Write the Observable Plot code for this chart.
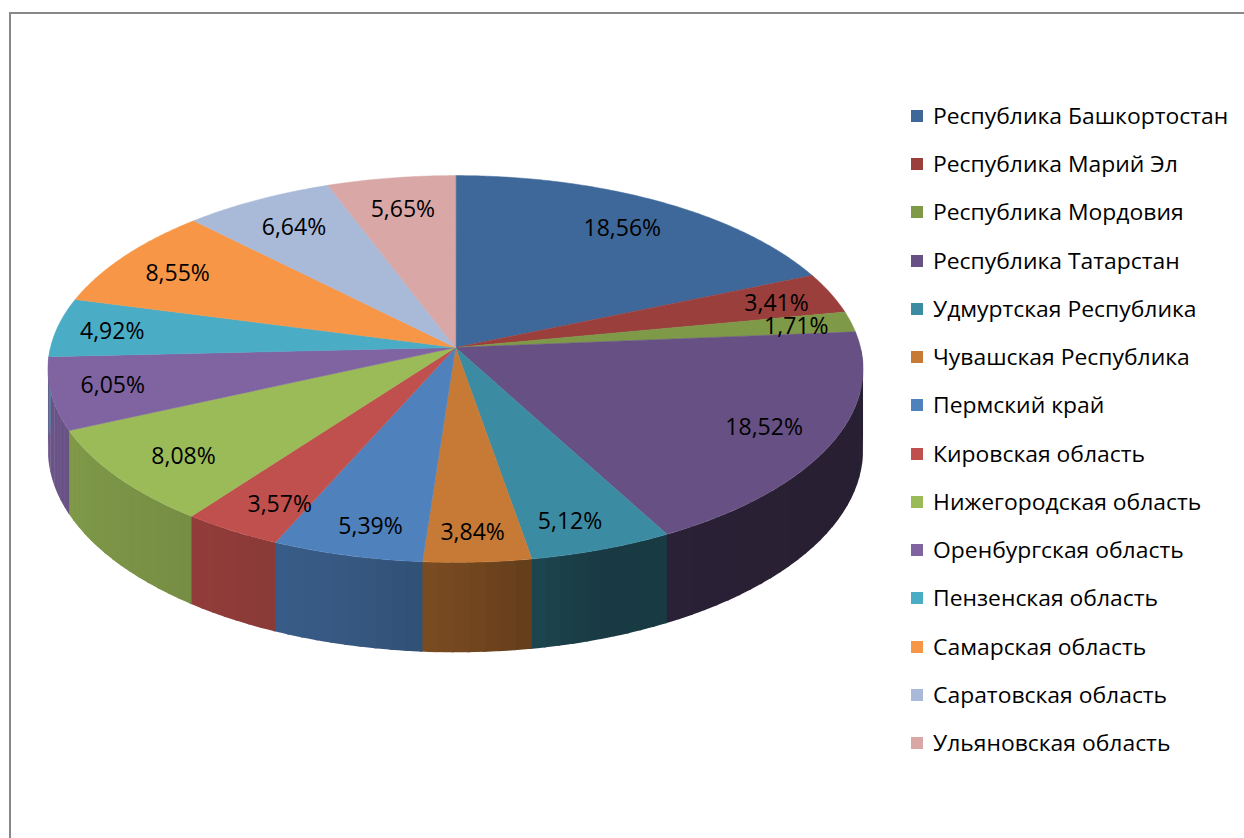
<!DOCTYPE html>
<html>
<head>
<meta charset="utf-8">
<script src="https://cdn.jsdelivr.net/npm/d3@7"></script>
<script src="https://cdn.jsdelivr.net/npm/@observablehq/plot@0.6"></script>
<style>
  html, body { margin: 0; padding: 0; background: #fff; }
  #wrap { position: relative; width: 1244px; height: 838px; overflow: hidden; }
  #frame { position: absolute; left: 9px; top: 12px; width: 1300px; height: 900px;
           border-left: 2px solid #888; border-top: 2px solid #888; }
  #chart { position: absolute; left: 0; top: 0; }
  #legend { position: absolute; left: 911px; top: 0; font-family: "Open Sans", sans-serif; font-size: 21px; color: #000; }
  .row { position: absolute; left: 0; white-space: nowrap; display: flex; align-items: center; height: 26px; }
  .sw { width: 12px; height: 12px; margin-right: 10px; flex: none; }
  .tx { display: inline-block; transform: scaleX(1.09); transform-origin: left center; }
</style>
</head>
<body>
<div id="wrap">
  <div id="frame"></div>
  <div id="chart"></div>
  <div id="legend"></div>
</div>
<script>
// ---- data ----
const regions = [
  "Республика Башкортостан", "Республика Марий Эл", "Республика Мордовия",
  "Республика Татарстан", "Удмуртская Республика", "Чувашская Республика",
  "Пермский край", "Кировская область", "Нижегородская область",
  "Оренбургская область", "Пензенская область", "Самарская область",
  "Саратовская область", "Ульяновская область"
];
const shares = [18.56, 3.41, 1.71, 18.52, 5.12, 3.84, 5.39, 3.57, 8.08, 6.05, 4.92, 8.55, 6.64, 5.65];
const colors = [
  "#3e689a", "#9b3f3d", "#7e9a48", "#675083", "#3b8ca2", "#c67a36", "#4f81bd",
  "#c0504d", "#9bbb59", "#8064a2", "#4bacc6", "#f79646", "#a9b9d8", "#d8a7a6"
];

// ---- geometry (3D perspective pie) ----
const CX = 455, CY = 347, R = 405, RY = 191, P = 0.111, DEPTH = 80;
function proj(k, t, h = 0) {
  const X = k * Math.sin(t), Z = -k * Math.cos(t);
  const f = 1 / (1 - P * Z);
  return [CX + R * X * f, CY + RY * Z * f + DEPTH * h * f];
}
const total = d3.sum(shares);
let cum = 0;
const slices = shares.map((v, i) => {
  const a0 = cum / total * 2 * Math.PI; cum += v;
  const a1 = cum / total * 2 * Math.PI;
  return {i, region: regions[i], value: v, a0, a1, color: colors[i]};
});

// top faces
const tops = [];
for (const s of slices) {
  const id = "t" + s.i;
  const [ax, ay] = proj(0, 0);
  tops.push({id, x: ax, y: ay, fill: s.color});
  const n = Math.max(4, Math.ceil((s.a1 - s.a0) / (Math.PI / 360)));
  for (let j = 0; j <= n; j++) {
    const t = s.a0 + (s.a1 - s.a0) * j / n;
    const [x, y] = proj(1, t);
    tops.push({id, x, y, fill: s.color});
  }
}

// side walls (front half), as narrow shaded strips that overlap slightly
const shade = d3.scaleLinear()
  .domain([-1, -0.78, -0.5, -0.2, 0.05, 0.3, 1])
  .range([0.84, 0.79, 0.74, 0.67, 0.57, 0.42, 0.38]).clamp(true);
const sides = [];
const V0 = Math.PI / 2, V1 = 3 * Math.PI / 2;
const OV = Math.PI / 600;
for (const s of slices) {
  const b0 = Math.max(s.a0, V0), b1 = Math.min(s.a1, V1);
  if (b1 <= b0) continue;
  const n = Math.max(1, Math.ceil((b1 - b0) / (Math.PI / 90)));
  const c = d3.rgb(s.color);
  for (let j = 0; j < n; j++) {
    const t0 = b0 + (b1 - b0) * j / n;
    const t1 = b0 + (b1 - b0) * (j + 1) / n;
    const t1e = Math.min(t1 + OV, V1);
    const k = shade(Math.sin((t0 + t1) / 2));
    const fill = d3.rgb(c.r * k, c.g * k, c.b * k).formatHex();
    const id = `s${s.i}_${j}`;
    const pts = [proj(1, t0), proj(1, (t0 + t1e) / 2), proj(1, t1e), proj(1, t1e, 1), proj(1, (t0 + t1e) / 2, 1), proj(1, t0, 1)];
    for (const [x, y] of pts) sides.push({id, x, y, fill});
  }
}

// labels
const fmt = d3.format(".2f");
const labelData = slices.map(s => {
  const mid = (s.a0 + s.a1) / 2;
  const X = Math.sin(mid);
  const [x, y] = proj(0.8, mid);
  return {
    x: x + 25 * Math.sign(X) * Math.abs(X) ** 6,
    y: y + 18 * Math.max(0, -Math.cos(mid)) ** 2,
    text: fmt(s.value).replace(".", ",") + "%"
  };
});

const chart = Plot.plot({
  width: 1244, height: 838,
  margin: 0,
  x: {domain: [0, 1244], range: [0, 1244], axis: null},
  y: {domain: [0, 838], range: [0, 838], axis: null},
  color: {type: "identity"},
  style: {background: "transparent"},
  marks: [
    Plot.line(sides, {x: "x", y: "y", z: "id", fill: "fill", stroke: "none", curve: "linear-closed"}),
    Plot.line(tops, {x: "x", y: "y", z: "id", fill: "fill", stroke: "fill", strokeWidth: 0.5, curve: "linear-closed"}),
    Plot.text(labelData, {x: "x", y: "y", text: "text", fontSize: 23, fill: "#000", fontFamily: "Open Sans"})
  ]
});
document.getElementById("chart").appendChild(chart);

// legend
const legend = document.getElementById("legend");
regions.forEach((r, i) => {
  const row = document.createElement("div");
  row.className = "row";
  row.style.top = (116 + i * 48.23 - 13) + "px";
  const sw = document.createElement("div");
  sw.className = "sw";
  sw.style.background = colors[i];
  const tx = document.createElement("span");
  tx.className = "tx";
  tx.textContent = r;
  row.appendChild(sw); row.appendChild(tx);
  legend.appendChild(row);
});
</script>
</body>
</html>
